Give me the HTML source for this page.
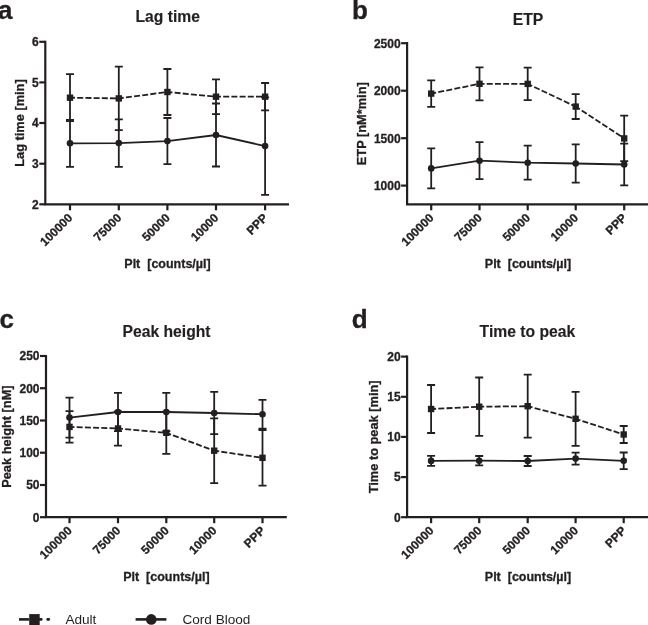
<!DOCTYPE html>
<html><head><meta charset="utf-8"><style>
html,body{margin:0;padding:0;background:#fff;width:648px;height:625px;overflow:hidden}
svg{display:block;will-change:transform}
text{font-family:"Liberation Sans", sans-serif;fill:#231f20;stroke:#231f20;stroke-width:0.3px}
</style></head><body>
<svg width="648" height="625" viewBox="0 0 648 625">
<path d="M45.3 40.699999999999996V204.3H289" fill="none" stroke="#231f20" stroke-width="2.2" stroke-linecap="butt"/>
<line x1="39.3" y1="41.8" x2="45.3" y2="41.8" stroke="#231f20" stroke-width="2.2"/>
<text x="38.8" y="46.099999999999994" text-anchor="end" font-size="12" font-weight="bold">6</text>
<line x1="39.3" y1="82.4" x2="45.3" y2="82.4" stroke="#231f20" stroke-width="2.2"/>
<text x="38.8" y="86.7" text-anchor="end" font-size="12" font-weight="bold">5</text>
<line x1="39.3" y1="123.0" x2="45.3" y2="123.0" stroke="#231f20" stroke-width="2.2"/>
<text x="38.8" y="127.3" text-anchor="end" font-size="12" font-weight="bold">4</text>
<line x1="39.3" y1="163.7" x2="45.3" y2="163.7" stroke="#231f20" stroke-width="2.2"/>
<text x="38.8" y="168.0" text-anchor="end" font-size="12" font-weight="bold">3</text>
<line x1="39.3" y1="204.3" x2="45.3" y2="204.3" stroke="#231f20" stroke-width="2.2"/>
<text x="38.8" y="208.60000000000002" text-anchor="end" font-size="12" font-weight="bold">2</text>
<line x1="70" y1="204.3" x2="70" y2="210.3" stroke="#231f20" stroke-width="2.2"/>
<text transform="translate(73.3,218.5) rotate(-45)" text-anchor="end" font-size="12" font-weight="bold">100000</text>
<line x1="118.8" y1="204.3" x2="118.8" y2="210.3" stroke="#231f20" stroke-width="2.2"/>
<text transform="translate(122.1,218.5) rotate(-45)" text-anchor="end" font-size="12" font-weight="bold">75000</text>
<line x1="167.4" y1="204.3" x2="167.4" y2="210.3" stroke="#231f20" stroke-width="2.2"/>
<text transform="translate(170.70000000000002,218.5) rotate(-45)" text-anchor="end" font-size="12" font-weight="bold">50000</text>
<line x1="216" y1="204.3" x2="216" y2="210.3" stroke="#231f20" stroke-width="2.2"/>
<text transform="translate(219.3,218.5) rotate(-45)" text-anchor="end" font-size="12" font-weight="bold">10000</text>
<line x1="265.1" y1="204.3" x2="265.1" y2="210.3" stroke="#231f20" stroke-width="2.2"/>
<text transform="translate(268.40000000000003,218.5) rotate(-45)" text-anchor="end" font-size="12" font-weight="bold">PPP</text>
<text x="167.5" y="268.3" text-anchor="middle" font-size="12.5" font-weight="bold">Plt&#160; [counts/µl]</text>
<text transform="translate(24.0,123.05000000000001) rotate(-90)" text-anchor="middle" font-size="12.8" font-weight="bold">Lag time [min]</text>
<text transform="translate(167.7,22.4) scale(1,1.04)" text-anchor="middle" font-size="15.7" font-weight="bold" style="stroke-width:0.15px">Lag time</text>
<text x="-2.0" y="19.2" font-size="26" font-weight="bold">a</text>
<path d="M70 119.80000000000001V166.8M66 119.80000000000001H74M66 166.8H74" stroke="#231f20" stroke-width="1.8" fill="none"/>
<path d="M118.8 119.39999999999999V166.79999999999998M114.8 119.39999999999999H122.8M114.8 166.79999999999998H122.8" stroke="#231f20" stroke-width="1.8" fill="none"/>
<path d="M167.4 118.0V164.2M163.4 118.0H171.4M163.4 164.2H171.4" stroke="#231f20" stroke-width="1.8" fill="none"/>
<path d="M216 103.5V166.5M212 103.5H220M212 166.5H220" stroke="#231f20" stroke-width="1.8" fill="none"/>
<path d="M265.1 97.39999999999999V194.8M261.1 97.39999999999999H269.1M261.1 194.8H269.1" stroke="#231f20" stroke-width="1.8" fill="none"/>
<path d="M70 74.2V121.2M66 74.2H74M66 121.2H74" stroke="#231f20" stroke-width="1.8" fill="none"/>
<path d="M118.8 66.60000000000001V130.20000000000002M114.8 66.60000000000001H122.8M114.8 130.20000000000002H122.8" stroke="#231f20" stroke-width="1.8" fill="none"/>
<path d="M167.4 69.0V115.0M163.4 69.0H171.4M163.4 115.0H171.4" stroke="#231f20" stroke-width="1.8" fill="none"/>
<path d="M216 79.30000000000001V114.1M212 79.30000000000001H220M212 114.1H220" stroke="#231f20" stroke-width="1.8" fill="none"/>
<path d="M265.1 83.0V110.4M261.1 83.0H269.1M261.1 110.4H269.1" stroke="#231f20" stroke-width="1.8" fill="none"/>
<path d="M70 143.3 L118.8 143.1 L167.4 141.1 L216 135.0 L265.1 146.1" stroke="#231f20" stroke-width="1.8" fill="none"/>
<circle cx="70" cy="143.3" r="3.3" fill="#231f20"/>
<circle cx="118.8" cy="143.1" r="3.3" fill="#231f20"/>
<circle cx="167.4" cy="141.1" r="3.3" fill="#231f20"/>
<circle cx="216" cy="135.0" r="3.3" fill="#231f20"/>
<circle cx="265.1" cy="146.1" r="3.3" fill="#231f20"/>
<path d="M70 97.7L118.8 98.4" stroke="#231f20" stroke-width="1.8" fill="none" stroke-dasharray="6 2.2" stroke-dashoffset="1"/>
<path d="M118.8 98.4L167.4 92.0" stroke="#231f20" stroke-width="1.8" fill="none" stroke-dasharray="6 2.2" stroke-dashoffset="1"/>
<path d="M167.4 92.0L216 96.7" stroke="#231f20" stroke-width="1.8" fill="none" stroke-dasharray="6 2.2" stroke-dashoffset="1"/>
<path d="M216 96.7L265.1 96.7" stroke="#231f20" stroke-width="1.8" fill="none" stroke-dasharray="6 2.2" stroke-dashoffset="1"/>
<rect x="66.8" y="94.5" width="6.4" height="6.4" fill="#231f20"/>
<rect x="115.6" y="95.2" width="6.4" height="6.4" fill="#231f20"/>
<rect x="164.20000000000002" y="88.8" width="6.4" height="6.4" fill="#231f20"/>
<rect x="212.8" y="93.5" width="6.4" height="6.4" fill="#231f20"/>
<rect x="261.90000000000003" y="93.5" width="6.4" height="6.4" fill="#231f20"/>
<path d="M407.1 42.1V204.3H650" fill="none" stroke="#231f20" stroke-width="2.2" stroke-linecap="butt"/>
<line x1="401.1" y1="43.2" x2="407.1" y2="43.2" stroke="#231f20" stroke-width="2.2"/>
<text x="400.6" y="47.5" text-anchor="end" font-size="12" font-weight="bold">2500</text>
<line x1="401.1" y1="90.7" x2="407.1" y2="90.7" stroke="#231f20" stroke-width="2.2"/>
<text x="400.6" y="95.0" text-anchor="end" font-size="12" font-weight="bold">2000</text>
<line x1="401.1" y1="138.2" x2="407.1" y2="138.2" stroke="#231f20" stroke-width="2.2"/>
<text x="400.6" y="142.5" text-anchor="end" font-size="12" font-weight="bold">1500</text>
<line x1="401.1" y1="185.6" x2="407.1" y2="185.6" stroke="#231f20" stroke-width="2.2"/>
<text x="400.6" y="189.9" text-anchor="end" font-size="12" font-weight="bold">1000</text>
<line x1="431.2" y1="204.3" x2="431.2" y2="210.3" stroke="#231f20" stroke-width="2.2"/>
<text transform="translate(434.5,218.5) rotate(-45)" text-anchor="end" font-size="12" font-weight="bold">100000</text>
<line x1="479.5" y1="204.3" x2="479.5" y2="210.3" stroke="#231f20" stroke-width="2.2"/>
<text transform="translate(482.8,218.5) rotate(-45)" text-anchor="end" font-size="12" font-weight="bold">75000</text>
<line x1="527.7" y1="204.3" x2="527.7" y2="210.3" stroke="#231f20" stroke-width="2.2"/>
<text transform="translate(531.0,218.5) rotate(-45)" text-anchor="end" font-size="12" font-weight="bold">50000</text>
<line x1="575.7" y1="204.3" x2="575.7" y2="210.3" stroke="#231f20" stroke-width="2.2"/>
<text transform="translate(579.0,218.5) rotate(-45)" text-anchor="end" font-size="12" font-weight="bold">10000</text>
<line x1="624.2" y1="204.3" x2="624.2" y2="210.3" stroke="#231f20" stroke-width="2.2"/>
<text transform="translate(627.5,218.5) rotate(-45)" text-anchor="end" font-size="12" font-weight="bold">PPP</text>
<text x="528" y="268.3" text-anchor="middle" font-size="12.5" font-weight="bold">Plt&#160; [counts/µl]</text>
<text transform="translate(365.7,123.75) rotate(-90)" text-anchor="middle" font-size="12.8" font-weight="bold">ETP [nM*min]</text>
<text transform="translate(528,24.8) scale(1,1.04)" text-anchor="middle" font-size="15.7" font-weight="bold" style="stroke-width:0.15px">ETP</text>
<text x="351.9" y="19.0" font-size="26" font-weight="bold">b</text>
<path d="M431.2 148.4V188.4M427.2 148.4H435.2M427.2 188.4H435.2" stroke="#231f20" stroke-width="1.8" fill="none"/>
<path d="M479.5 142.2V179.2M475.5 142.2H483.5M475.5 179.2H483.5" stroke="#231f20" stroke-width="1.8" fill="none"/>
<path d="M527.7 145.7V179.7M523.7 145.7H531.7M523.7 179.7H531.7" stroke="#231f20" stroke-width="1.8" fill="none"/>
<path d="M575.7 144.3V182.7M571.7 144.3H579.7M571.7 182.7H579.7" stroke="#231f20" stroke-width="1.8" fill="none"/>
<path d="M624.2 143.6V185.4M620.2 143.6H628.2M620.2 185.4H628.2" stroke="#231f20" stroke-width="1.8" fill="none"/>
<path d="M431.2 80.3V106.89999999999999M427.2 80.3H435.2M427.2 106.89999999999999H435.2" stroke="#231f20" stroke-width="1.8" fill="none"/>
<path d="M479.5 67.3V100.3M475.5 67.3H483.5M475.5 100.3H483.5" stroke="#231f20" stroke-width="1.8" fill="none"/>
<path d="M527.7 67.60000000000001V100.2M523.7 67.60000000000001H531.7M523.7 100.2H531.7" stroke="#231f20" stroke-width="1.8" fill="none"/>
<path d="M575.7 94.19999999999999V119.0M571.7 94.19999999999999H579.7M571.7 119.0H579.7" stroke="#231f20" stroke-width="1.8" fill="none"/>
<path d="M624.2 115.7V161.1M620.2 115.7H628.2M620.2 161.1H628.2" stroke="#231f20" stroke-width="1.8" fill="none"/>
<path d="M431.2 168.4 L479.5 160.7 L527.7 162.7 L575.7 163.5 L624.2 164.5" stroke="#231f20" stroke-width="1.8" fill="none"/>
<circle cx="431.2" cy="168.4" r="3.3" fill="#231f20"/>
<circle cx="479.5" cy="160.7" r="3.3" fill="#231f20"/>
<circle cx="527.7" cy="162.7" r="3.3" fill="#231f20"/>
<circle cx="575.7" cy="163.5" r="3.3" fill="#231f20"/>
<circle cx="624.2" cy="164.5" r="3.3" fill="#231f20"/>
<path d="M431.2 93.6L479.5 83.8" stroke="#231f20" stroke-width="1.8" fill="none" stroke-dasharray="6 2.2" stroke-dashoffset="1"/>
<path d="M479.5 83.8L527.7 83.9" stroke="#231f20" stroke-width="1.8" fill="none" stroke-dasharray="6 2.2" stroke-dashoffset="1"/>
<path d="M527.7 83.9L575.7 106.6" stroke="#231f20" stroke-width="1.8" fill="none" stroke-dasharray="6 2.2" stroke-dashoffset="1"/>
<path d="M575.7 106.6L624.2 138.4" stroke="#231f20" stroke-width="1.8" fill="none" stroke-dasharray="6 2.2" stroke-dashoffset="1"/>
<rect x="428.0" y="90.39999999999999" width="6.4" height="6.4" fill="#231f20"/>
<rect x="476.3" y="80.6" width="6.4" height="6.4" fill="#231f20"/>
<rect x="524.5" y="80.7" width="6.4" height="6.4" fill="#231f20"/>
<rect x="572.5" y="103.39999999999999" width="6.4" height="6.4" fill="#231f20"/>
<rect x="621.0" y="135.20000000000002" width="6.4" height="6.4" fill="#231f20"/>
<path d="M46 354.9V517.2H286.8" fill="none" stroke="#231f20" stroke-width="2.2" stroke-linecap="butt"/>
<line x1="40" y1="356" x2="46" y2="356" stroke="#231f20" stroke-width="2.2"/>
<text x="39.5" y="360.3" text-anchor="end" font-size="12" font-weight="bold">250</text>
<line x1="40" y1="388.2" x2="46" y2="388.2" stroke="#231f20" stroke-width="2.2"/>
<text x="39.5" y="392.5" text-anchor="end" font-size="12" font-weight="bold">200</text>
<line x1="40" y1="420.5" x2="46" y2="420.5" stroke="#231f20" stroke-width="2.2"/>
<text x="39.5" y="424.8" text-anchor="end" font-size="12" font-weight="bold">150</text>
<line x1="40" y1="452.7" x2="46" y2="452.7" stroke="#231f20" stroke-width="2.2"/>
<text x="39.5" y="457.0" text-anchor="end" font-size="12" font-weight="bold">100</text>
<line x1="40" y1="485.0" x2="46" y2="485.0" stroke="#231f20" stroke-width="2.2"/>
<text x="39.5" y="489.3" text-anchor="end" font-size="12" font-weight="bold">50</text>
<line x1="40" y1="517.2" x2="46" y2="517.2" stroke="#231f20" stroke-width="2.2"/>
<text x="39.5" y="521.5" text-anchor="end" font-size="12" font-weight="bold">0</text>
<line x1="69.5" y1="517.2" x2="69.5" y2="523.2" stroke="#231f20" stroke-width="2.2"/>
<text transform="translate(72.8,531.4000000000001) rotate(-45)" text-anchor="end" font-size="12" font-weight="bold">100000</text>
<line x1="118" y1="517.2" x2="118" y2="523.2" stroke="#231f20" stroke-width="2.2"/>
<text transform="translate(121.3,531.4000000000001) rotate(-45)" text-anchor="end" font-size="12" font-weight="bold">75000</text>
<line x1="166.3" y1="517.2" x2="166.3" y2="523.2" stroke="#231f20" stroke-width="2.2"/>
<text transform="translate(169.60000000000002,531.4000000000001) rotate(-45)" text-anchor="end" font-size="12" font-weight="bold">50000</text>
<line x1="214.2" y1="517.2" x2="214.2" y2="523.2" stroke="#231f20" stroke-width="2.2"/>
<text transform="translate(217.5,531.4000000000001) rotate(-45)" text-anchor="end" font-size="12" font-weight="bold">10000</text>
<line x1="262.5" y1="517.2" x2="262.5" y2="523.2" stroke="#231f20" stroke-width="2.2"/>
<text transform="translate(265.8,531.4000000000001) rotate(-45)" text-anchor="end" font-size="12" font-weight="bold">PPP</text>
<text x="166.4" y="581.2" text-anchor="middle" font-size="12.5" font-weight="bold">Plt&#160; [counts/µl]</text>
<text transform="translate(10.7,436.6) rotate(-90)" text-anchor="middle" font-size="12.8" font-weight="bold">Peak height [nM]</text>
<text transform="translate(166.5,336.9) scale(1,1.04)" text-anchor="middle" font-size="15.7" font-weight="bold" style="stroke-width:0.15px">Peak height</text>
<text x="-0.5" y="327.8" font-size="26" font-weight="bold">c</text>
<path d="M69.5 397.6V437.6M65.5 397.6H73.5M65.5 437.6H73.5" stroke="#231f20" stroke-width="1.8" fill="none"/>
<path d="M118 392.8V431.2M114 392.8H122M114 431.2H122" stroke="#231f20" stroke-width="1.8" fill="none"/>
<path d="M166.3 392.8V431.2M162.3 392.8H170.3M162.3 431.2H170.3" stroke="#231f20" stroke-width="1.8" fill="none"/>
<path d="M214.2 391.9V434.1M210.2 391.9H218.2M210.2 434.1H218.2" stroke="#231f20" stroke-width="1.8" fill="none"/>
<path d="M262.5 399.8V428.59999999999997M258.5 399.8H266.5M258.5 428.59999999999997H266.5" stroke="#231f20" stroke-width="1.8" fill="none"/>
<path d="M69.5 411.2V442.59999999999997M65.5 411.2H73.5M65.5 442.59999999999997H73.5" stroke="#231f20" stroke-width="1.8" fill="none"/>
<path d="M118 411.4V445.6M114 411.4H122M114 445.6H122" stroke="#231f20" stroke-width="1.8" fill="none"/>
<path d="M166.3 411.7V453.90000000000003M162.3 411.7H170.3M162.3 453.90000000000003H170.3" stroke="#231f20" stroke-width="1.8" fill="none"/>
<path d="M214.2 418.3V483.09999999999997M210.2 418.3H218.2M210.2 483.09999999999997H218.2" stroke="#231f20" stroke-width="1.8" fill="none"/>
<path d="M262.5 430.0V485.6M258.5 430.0H266.5M258.5 485.6H266.5" stroke="#231f20" stroke-width="1.8" fill="none"/>
<path d="M69.5 417.6 L118 412.0 L166.3 412.0 L214.2 413.0 L262.5 414.2" stroke="#231f20" stroke-width="1.8" fill="none"/>
<circle cx="69.5" cy="417.6" r="3.3" fill="#231f20"/>
<circle cx="118" cy="412.0" r="3.3" fill="#231f20"/>
<circle cx="166.3" cy="412.0" r="3.3" fill="#231f20"/>
<circle cx="214.2" cy="413.0" r="3.3" fill="#231f20"/>
<circle cx="262.5" cy="414.2" r="3.3" fill="#231f20"/>
<path d="M69.5 426.9L118 428.5" stroke="#231f20" stroke-width="1.8" fill="none" stroke-dasharray="6 2.2" stroke-dashoffset="1"/>
<path d="M118 428.5L166.3 432.8" stroke="#231f20" stroke-width="1.8" fill="none" stroke-dasharray="6 2.2" stroke-dashoffset="1"/>
<path d="M166.3 432.8L214.2 450.7" stroke="#231f20" stroke-width="1.8" fill="none" stroke-dasharray="6 2.2" stroke-dashoffset="1"/>
<path d="M214.2 450.7L262.5 457.8" stroke="#231f20" stroke-width="1.8" fill="none" stroke-dasharray="6 2.2" stroke-dashoffset="1"/>
<rect x="66.3" y="423.7" width="6.4" height="6.4" fill="#231f20"/>
<rect x="114.8" y="425.3" width="6.4" height="6.4" fill="#231f20"/>
<rect x="163.10000000000002" y="429.6" width="6.4" height="6.4" fill="#231f20"/>
<rect x="211.0" y="447.5" width="6.4" height="6.4" fill="#231f20"/>
<rect x="259.3" y="454.6" width="6.4" height="6.4" fill="#231f20"/>
<path d="M407.1 355.5V517.2H650" fill="none" stroke="#231f20" stroke-width="2.2" stroke-linecap="butt"/>
<line x1="401.1" y1="356.6" x2="407.1" y2="356.6" stroke="#231f20" stroke-width="2.2"/>
<text x="400.6" y="360.90000000000003" text-anchor="end" font-size="12" font-weight="bold">20</text>
<line x1="401.1" y1="396.8" x2="407.1" y2="396.8" stroke="#231f20" stroke-width="2.2"/>
<text x="400.6" y="401.1" text-anchor="end" font-size="12" font-weight="bold">15</text>
<line x1="401.1" y1="436.9" x2="407.1" y2="436.9" stroke="#231f20" stroke-width="2.2"/>
<text x="400.6" y="441.2" text-anchor="end" font-size="12" font-weight="bold">10</text>
<line x1="401.1" y1="477.1" x2="407.1" y2="477.1" stroke="#231f20" stroke-width="2.2"/>
<text x="400.6" y="481.40000000000003" text-anchor="end" font-size="12" font-weight="bold">5</text>
<line x1="401.1" y1="517.2" x2="407.1" y2="517.2" stroke="#231f20" stroke-width="2.2"/>
<text x="400.6" y="521.5" text-anchor="end" font-size="12" font-weight="bold">0</text>
<line x1="431.1" y1="517.2" x2="431.1" y2="523.2" stroke="#231f20" stroke-width="2.2"/>
<text transform="translate(434.40000000000003,531.4000000000001) rotate(-45)" text-anchor="end" font-size="12" font-weight="bold">100000</text>
<line x1="479.2" y1="517.2" x2="479.2" y2="523.2" stroke="#231f20" stroke-width="2.2"/>
<text transform="translate(482.5,531.4000000000001) rotate(-45)" text-anchor="end" font-size="12" font-weight="bold">75000</text>
<line x1="527.7" y1="517.2" x2="527.7" y2="523.2" stroke="#231f20" stroke-width="2.2"/>
<text transform="translate(531.0,531.4000000000001) rotate(-45)" text-anchor="end" font-size="12" font-weight="bold">50000</text>
<line x1="575.6" y1="517.2" x2="575.6" y2="523.2" stroke="#231f20" stroke-width="2.2"/>
<text transform="translate(578.9,531.4000000000001) rotate(-45)" text-anchor="end" font-size="12" font-weight="bold">10000</text>
<line x1="623.7" y1="517.2" x2="623.7" y2="523.2" stroke="#231f20" stroke-width="2.2"/>
<text transform="translate(627.0,531.4000000000001) rotate(-45)" text-anchor="end" font-size="12" font-weight="bold">PPP</text>
<text x="528" y="581.2" text-anchor="middle" font-size="12.5" font-weight="bold">Plt&#160; [counts/µl]</text>
<text transform="translate(377.7,436.90000000000003) rotate(-90)" text-anchor="middle" font-size="12.8" font-weight="bold">Time to peak [min]</text>
<text transform="translate(527.4,337.2) scale(1,1.04)" text-anchor="middle" font-size="15.7" font-weight="bold" style="stroke-width:0.15px">Time to peak</text>
<text x="351.8" y="327.8" font-size="26" font-weight="bold">d</text>
<path d="M431.1 455.9V465.9M427.1 455.9H435.1M427.1 465.9H435.1" stroke="#231f20" stroke-width="1.8" fill="none"/>
<path d="M479.2 456.0V465.4M475.2 456.0H483.2M475.2 465.4H483.2" stroke="#231f20" stroke-width="1.8" fill="none"/>
<path d="M527.7 456.0V466.0M523.7 456.0H531.7M523.7 466.0H531.7" stroke="#231f20" stroke-width="1.8" fill="none"/>
<path d="M575.6 452.6V464.6M571.6 452.6H579.6M571.6 464.6H579.6" stroke="#231f20" stroke-width="1.8" fill="none"/>
<path d="M623.7 452.5V469.1M619.7 452.5H627.7M619.7 469.1H627.7" stroke="#231f20" stroke-width="1.8" fill="none"/>
<path d="M431.1 385.0V433.0M427.1 385.0H435.1M427.1 433.0H435.1" stroke="#231f20" stroke-width="1.8" fill="none"/>
<path d="M479.2 377.5V435.9M475.2 377.5H483.2M475.2 435.9H483.2" stroke="#231f20" stroke-width="1.8" fill="none"/>
<path d="M527.7 374.7V437.7M523.7 374.7H531.7M523.7 437.7H531.7" stroke="#231f20" stroke-width="1.8" fill="none"/>
<path d="M575.6 391.8V445.8M571.6 391.8H579.6M571.6 445.8H579.6" stroke="#231f20" stroke-width="1.8" fill="none"/>
<path d="M623.7 426.0V443.0M619.7 426.0H627.7M619.7 443.0H627.7" stroke="#231f20" stroke-width="1.8" fill="none"/>
<path d="M431.1 460.9 L479.2 460.7 L527.7 461.0 L575.6 458.6 L623.7 460.8" stroke="#231f20" stroke-width="1.8" fill="none"/>
<circle cx="431.1" cy="460.9" r="3.3" fill="#231f20"/>
<circle cx="479.2" cy="460.7" r="3.3" fill="#231f20"/>
<circle cx="527.7" cy="461.0" r="3.3" fill="#231f20"/>
<circle cx="575.6" cy="458.6" r="3.3" fill="#231f20"/>
<circle cx="623.7" cy="460.8" r="3.3" fill="#231f20"/>
<path d="M431.1 409.0L479.2 406.7" stroke="#231f20" stroke-width="1.8" fill="none" stroke-dasharray="6 2.2" stroke-dashoffset="1"/>
<path d="M479.2 406.7L527.7 406.2" stroke="#231f20" stroke-width="1.8" fill="none" stroke-dasharray="6 2.2" stroke-dashoffset="1"/>
<path d="M527.7 406.2L575.6 418.8" stroke="#231f20" stroke-width="1.8" fill="none" stroke-dasharray="6 2.2" stroke-dashoffset="1"/>
<path d="M575.6 418.8L623.7 434.5" stroke="#231f20" stroke-width="1.8" fill="none" stroke-dasharray="6 2.2" stroke-dashoffset="1"/>
<rect x="427.90000000000003" y="405.8" width="6.4" height="6.4" fill="#231f20"/>
<rect x="476.0" y="403.5" width="6.4" height="6.4" fill="#231f20"/>
<rect x="524.5" y="403.0" width="6.4" height="6.4" fill="#231f20"/>
<rect x="572.4" y="415.6" width="6.4" height="6.4" fill="#231f20"/>
<rect x="620.5" y="431.3" width="6.4" height="6.4" fill="#231f20"/>

<path d="M19 619.4H29.2" stroke="#231f20" stroke-width="2.6"/>
<rect x="29.2" y="614.1" width="10.5" height="11" fill="#231f20"/>
<path d="M39.7 619.4H41.3M47.6 619.4H48.8" stroke="#231f20" stroke-width="2.6" stroke-linecap="round"/>
<text x="65.4" y="623.8" font-size="13.6" style="stroke:none">Adult</text>
<path d="M135.6 619.4H166.4" stroke="#231f20" stroke-width="2.6"/>
<circle cx="151.3" cy="619.4" r="5.3" fill="#231f20"/>
<text x="182.4" y="623.8" font-size="13.6" style="stroke:none">Cord Blood</text>

</svg>
</body></html>
